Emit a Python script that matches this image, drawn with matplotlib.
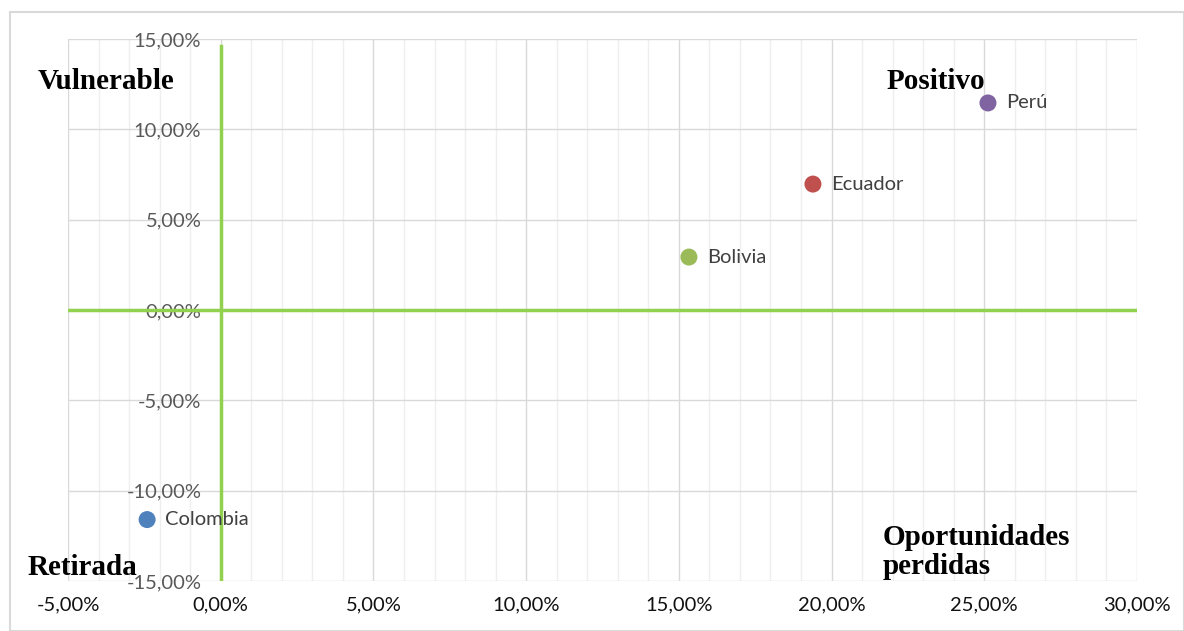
import matplotlib
matplotlib.use("Agg")
import matplotlib.pyplot as plt
from matplotlib.ticker import MultipleLocator, FuncFormatter
from matplotlib.patches import Rectangle

countries = ["Colombia", "Bolivia", "Ecuador", "Perú"]
x_vals = [-2.41, 15.33, 19.39, 25.12]
y_vals = [-11.6, 2.93, 6.97, 11.46]
colors = ["#4F81BD", "#9BBB59", "#C0504D", "#8064A2"]

quadrants = ["Vulnerable", "Positivo", "Retirada", "Oportunidades\nperdidas"]
quad_x = [-5.98, 21.79, -6.31, 21.66]
quad_y = [12.67, 12.67, -14.28, -13.39]

fig = plt.figure(figsize=(11.84, 6.31), dpi=100)
fig.patches.append(Rectangle((10/1184, 0), 1 - 10/1184, 1 - 12/631, transform=fig.transFigure,
                             fill=False, edgecolor="#d9d9d9", linewidth=1.5))
ax = fig.add_axes([68/1184, 1 - 581/631, (1137-68)/1184, (581-39)/631])
ax.set_xlim(-5, 30)
ax.set_ylim(-15, 15)

ax.xaxis.set_major_locator(MultipleLocator(5))
ax.xaxis.set_minor_locator(MultipleLocator(1))
ax.yaxis.set_major_locator(MultipleLocator(5))
fmt = FuncFormatter(lambda v, p: f"{v:.2f}".replace(".", ",") + "%")
ax.xaxis.set_major_formatter(fmt)
ax.yaxis.set_major_formatter(fmt)

ax.grid(which="major", color="#d9d9d9", linewidth=1.0)
ax.grid(which="minor", axis="x", color="#efefef", linewidth=1.0)
ax.set_axisbelow(True)
for s in ax.spines.values():
    s.set_visible(False)
ax.spines["left"].set_position(("data", 0))
ax.tick_params(which="both", length=0)
ax.tick_params(axis="x", labelsize=14.5, labelcolor="#111111", pad=11)
ax.tick_params(axis="y", labelsize=14.5, labelcolor="#595959", pad=14)
for lab in ax.get_xticklabels() + ax.get_yticklabels():
    lab.set_fontfamily("Lato")

ax.axhline(0, color="#92D050", linewidth=2.5, zorder=2)
ax.axvline(0, ymin=0, ymax=0.988, color="#92D050", linewidth=2.5, zorder=2)

ax.scatter(x_vals, y_vals, s=150, c=colors, zorder=3, edgecolors="none")
for name, xv, yv in zip(countries, x_vals, y_vals):
    ax.annotate(name, (xv, yv), xytext=(13, 0), textcoords="offset points",
                va="center", ha="left", fontsize=14.5, color="#404040", family="Lato", zorder=4)

for t, xq, yq in zip(quadrants, quad_x, quad_y):
    ax.text(xq, yq, t, ha="left", va="center", fontsize=21, fontweight="bold",
            family="Liberation Serif", color="black", clip_on=False, linespacing=1.1, zorder=5)

fig.savefig("out.png", dpi=100)
